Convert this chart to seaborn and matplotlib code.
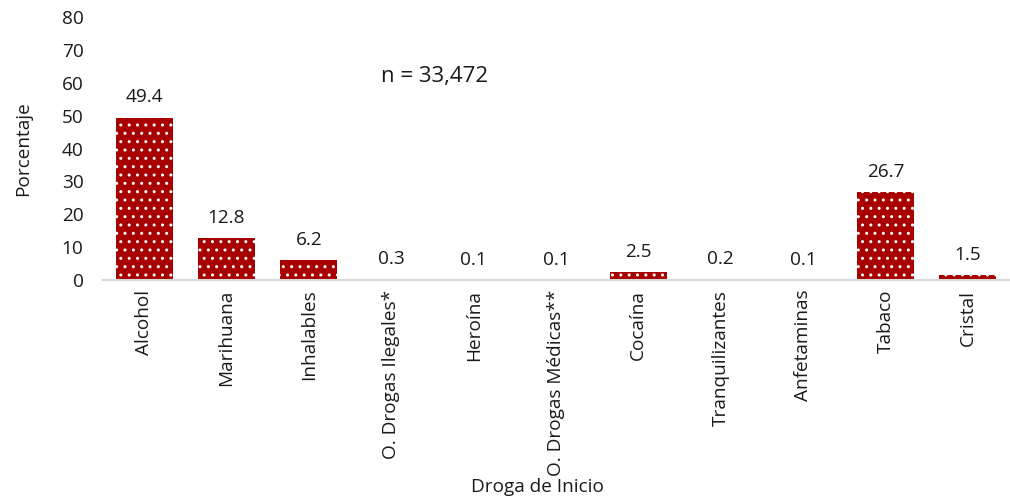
import matplotlib
matplotlib.use("Agg")
import matplotlib.pyplot as plt
import seaborn as sns
import pandas as pd

categories = ["Alcohol", "Marihuana", "Inhalables", "O. Drogas Ilegales*", "Heroína",
              "O. Drogas Médicas**", "Cocaína", "Tranquilizantes", "Anfetaminas",
              "Tabaco", "Cristal"]
values = [49.4, 12.8, 6.2, 0.3, 0.1, 0.1, 2.5, 0.2, 0.1, 26.7, 1.5]
value_labels = ["49.4", "12.8", "6.2", "0.3", "0.1", "0.1", "2.5", "0.2", "0.1", "26.7", "1.5"]
y_ticks = [0, 10, 20, 30, 40, 50, 60, 70, 80]
annotation = "n = 33,472"

sns.set_theme(style="white")
plt.rcParams["font.family"] = ["Open Sans", "DejaVu Sans"]
plt.rcParams["hatch.linewidth"] = 1.0

df = pd.DataFrame({"Droga": categories, "Porcentaje": values})

fig = plt.figure(figsize=(10.1, 4.99), dpi=100)
ax = fig.add_axes([103 / 1010, (499 - 280) / 499, 906 / 1010, 263 / 499])

sns.barplot(data=df, x="Droga", y="Porcentaje", color="#A80000", saturation=1,
            width=0.69, ax=ax)

for p in ax.patches:
    p.set_facecolor("#A80000")
    p.set_edgecolor("white")
    p.set_linewidth(0)
    p.set_hatch("..")

fs = 13.7
ax.bar_label(ax.containers[0], labels=value_labels, padding=8, fontsize=fs,
             color="#1a1a1a")

ax.set_ylim(0, 80)
ax.set_xlim(-0.5, len(categories) - 0.5)
ax.set_yticks(y_ticks)
ax.set_yticklabels([str(t) for t in y_ticks])

for s in ["top", "right", "left"]:
    ax.spines[s].set_visible(False)
ax.spines["bottom"].set_color("#d9d9d9")
ax.spines["bottom"].set_linewidth(1.5)

ax.tick_params(axis="y", length=0, pad=14, labelsize=fs, labelcolor="#1a1a1a")
ax.tick_params(axis="x", length=0, pad=7, labelsize=fs, labelcolor="#1a1a1a",
               labelrotation=90)

ax.set_xlabel("Droga de Inicio", fontsize=fs, color="#1a1a1a")
ax.set_ylabel("Porcentaje", fontsize=fs, color="#1a1a1a")
ax.xaxis.set_label_coords(0.48, -0.752)
ax.xaxis.label.set_va("top")
ax.yaxis.set_label_coords(-0.078, 0.5)

ax.text(3.53, 62, annotation, fontsize=16, color="#1a1a1a", ha="center", va="center")

fig.savefig("out.png", dpi=100)
